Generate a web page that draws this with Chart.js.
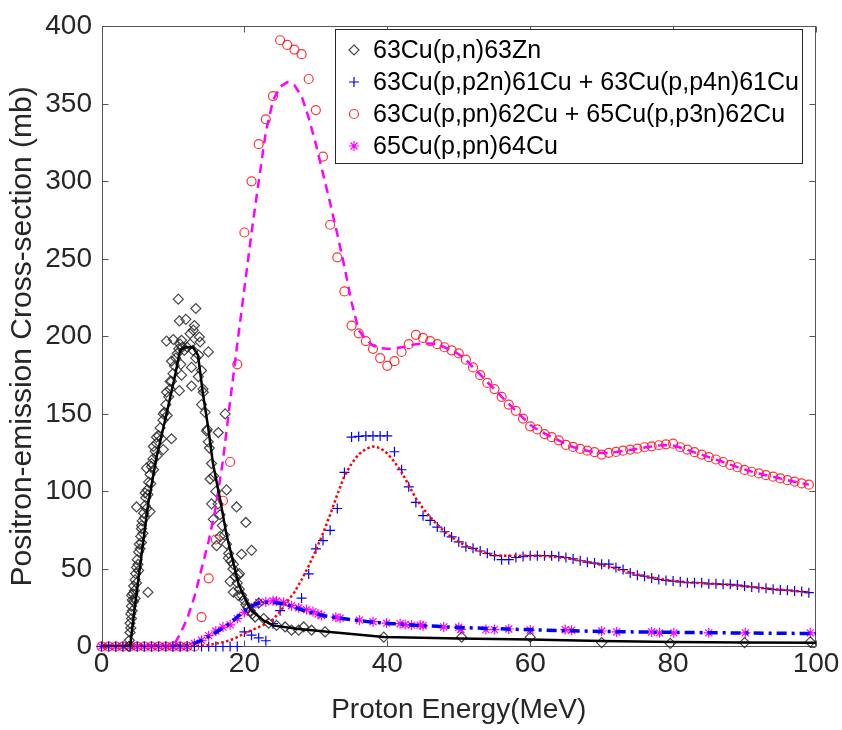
<!DOCTYPE html>
<html>
<head>
<meta charset="utf-8">
<script src="https://cdn.jsdelivr.net/npm/chart.js@4.4.1/dist/chart.umd.min.js"></script>
<style>
  body { margin: 0; background: #fff; }
  canvas { display: block; }
</style>
</head>
<body>
<canvas id="chart" width="842" height="730"></canvas>
<script>
// series names, in legend order
const seriesNames = [
    '63Cu(p,n)63Zn',
    '63Cu(p,p2n)61Cu + 63Cu(p,p4n)61Cu',
    '63Cu(p,pn)62Cu + 65Cu(p,p3n)62Cu',
    '65Cu(p,pn)64Cu'
];
const xTicks = [0, 20, 40, 60, 80, 100];
const yTicks = [0, 50, 100, 150, 200, 250, 300, 350, 400];

// 63Cu(p,n)63Zn points (diamonds)
const znE = [3.8, 3.9, 4.0, 4.0, 4.1, 4.1, 4.2, 4.2, 4.3, 4.3, 4.4, 4.5, 4.5, 4.6, 4.7, 4.7, 4.8, 4.9, 4.9, 5.0,
    5.1, 5.2, 5.2, 5.3, 5.4, 5.5, 5.6, 5.6, 5.7, 5.8, 5.9, 6.0, 6.1, 6.2, 6.3, 6.4, 6.5, 6.6, 6.8, 6.9,
    7.0, 7.2, 7.3, 7.5, 7.7, 7.8, 8.0, 8.2, 8.4, 8.6, 8.8, 9.0, 9.2, 9.4, 9.6, 9.8, 10.0, 10.2, 10.4, 10.6,
    10.8, 11.0, 11.3, 11.6, 12.0, 12.4, 12.8, 13.2,
    4.2, 6.5, 5.6, 4.9, 6.8, 6.1, 6.3, 7.0, 7.25, 8.65, 7.7, 9.8, 8.65, 9.1, 9.6, 10.9, 11.2, 9.8, 11.1, 12.6,
    12.6, 13.55, 9.1, 10.05, 11.2, 12.4, 13.7, 13.8, 14.95, 10.75, 13.2, 10.9, 11.8, 13.0, 12.85, 14.25, 14.0, 17.3, 14.7, 16.35,
    14.95, 15.2, 17.5, 18.9, 15.4, 15.65, 16.6, 16.1, 17.75, 18.45, 19.15, 18.0, 18.45, 19.15, 20.2, 19.6, 21.0, 19.3,
    13.6, 14.0, 14.2, 14.5, 14.8, 15.1, 15.4, 15.7, 16.0, 16.3, 16.6, 16.9, 17.2, 17.5, 17.8, 18.1, 18.4, 18.7, 19.0, 19.3,
    19.6, 19.9, 20.2, 20.5, 20.8, 21.1, 21.5, 22.0, 22.7, 23.4, 24.5, 25.7, 26.6, 27.6, 28.3, 29.4, 31.3, 39.5, 50.4, 60.0,
    70.0, 79.6, 90.0, 99.2];
const znXs = [0, 4, 9, 15, 12, 21, 26, 18, 30, 23, 34, 29, 39, 36, 43, 31, 47, 51, 41, 56,
    53, 61, 49, 66, 63, 71, 67, 76, 81, 73, 86, 83, 91, 96, 89, 101, 98, 106, 111, 105,
    116, 121, 114, 126, 131, 123, 136, 141, 134, 146, 151, 156, 149, 161, 166, 171, 176, 181, 186, 189,
    192, 195, 193, 191, 193, 195, 191, 186,
    33, 35, 78, 90, 87, 99, 115, 118, 129, 127, 135, 134, 150, 164, 171, 165, 175, 184, 182, 180,
    168, 174, 197, 198, 197.5, 201.7, 199.6, 196.4, 190, 224, 218, 210, 211, 207, 204, 164, 156, 150, 139, 138,
    132, 108, 101, 90, 92, 82, 71, 65, 57, 53, 46, 42, 35, 33, 80, 59.5, 62, 47,
    188, 178, 166, 151, 140, 128, 118, 110, 100, 92, 85, 78, 72, 66, 60, 55, 50, 45, 41, 37,
    33, 30, 27, 25, 23, 21, 19, 28, 18, 15, 13.6, 12.6, 10.5, 10.5, 12.6, 10.5, 9.4, 6, 6, 6,
    2.5, 2, 2.5, 3];

// 61Cu points (plus)
const cu61E = [0, 1, 2, 3, 4, 5, 6, 7, 8, 9, 10, 11, 12, 13, 14, 15, 16, 17, 18, 19,
    20, 21, 22, 23, 24, 25, 28, 29, 30, 31, 32, 33, 34, 35, 36, 37, 38, 39, 40, 41,
    42, 43, 44, 45, 46, 47, 48, 49, 50, 51, 52, 53, 54, 55, 56, 57, 58, 59, 60, 61,
    62, 63, 64, 65, 66, 67, 68, 69, 70, 71, 72, 73, 74, 75, 76, 77, 78, 79, 80, 81,
    82, 83, 84, 85, 86, 87, 88, 89, 90, 91, 92, 93, 94, 95, 96, 97, 98, 99];
const cu61Xs = [0, 0, 0, 0, 0, 0, 0, 0, 0, 0, 0, 0, 0, 0, 0, 0, 0, 0, 0, 0,
    9.4, 7.3, 5.6, 3.7, 14.7, 23.1, 31.2, 46.8, 63, 68.3, 74.9, 89, 112.3, 135.1, 135.5, 135.8, 135.8, 135.8, 135.8, 125.6,
    114, 103, 92.9, 84.4, 81.3, 77, 74, 70.7, 67.5, 64.3, 63.3, 61.6, 60.1, 58.6, 56, 56, 57.4, 58, 58.6, 58.6,
    58.6, 58.6, 58, 57.4, 56.5, 55.3, 54.4, 53.8, 53.1, 53.1, 51, 49.6, 47.4, 46, 45.3, 44.2, 43.2, 42.6, 42.2, 41.7,
    41.1, 41.1, 41.1, 40.4, 40.4, 40.1, 40.1, 39.6, 39, 38.4, 37.9, 37.5, 36.9, 36.4, 36.3, 35.8, 35.4, 34.7];

// 62Cu points (circles), one per MeV from 0 to 99
const cu62Xs = [0, 0, 0, 0, 0, 0, 0, 0, 0, 0, 0, 0, 0, 0, 19, 44, 69, 94, 119, 182,
    267, 300, 324, 340, 355, 391, 388, 385, 382, 366, 346, 316, 272, 251, 229, 207, 202, 197, 192, 186,
    181, 184, 190, 195, 201, 199, 197, 195, 193, 191, 189, 185, 180, 175, 170, 166, 161, 156, 152, 147,
    142, 140, 137, 135, 133, 130, 128.7, 127.4, 126.3, 125.3, 123.8, 124.9, 125.5, 126.3, 127, 127.6, 128.5, 129.1, 129.8, 130.4,
    130.8, 128.5, 127, 125.3, 123.8, 122.1, 120.6, 119, 117.1, 115.6, 113.9, 112.7, 111.6, 110.5, 109.5, 108.4, 107.3, 106.3, 105.2, 104.4];

// 64Cu points (asterisks)
const cu64E = [0, 1, 2, 3, 4, 5, 6, 7, 8, 9, 10, 11, 12, 13, 14, 15, 16, 17, 18, 19,
    20, 21, 22, 23, 24, 24.5, 25.5, 26.6, 27.6, 28.7, 29.6, 30.3, 30.8, 32.8, 33.4, 36.1, 38, 39.9, 41.8, 42.5,
    43.4, 44.6, 45, 47.9, 50, 50.3, 53.8, 55, 57, 60, 64.9, 65.8, 70, 72.1, 77, 78.1, 80.1, 85, 90.1, 99.2];
const cu64Xs = [0, 0, 0, 0, 0, 0, 0, 0, 0, 0, 0, 0, 0, 2, 4, 7, 10, 12.5, 14, 18,
    22, 25, 28.4, 28.8, 29.5, 29.3, 28.4, 26.3, 25, 23.8, 22.5, 21, 20, 18.9, 18.3, 17, 16, 15.1, 14.7, 14.2,
    13.8, 13.8, 13.4, 12.6, 12.4, 11, 10.9, 10.9, 11.3, 10.6, 10.9, 10.5, 10, 9.4, 9.4, 8.8, 8.8, 8.8, 8.8, 8.8];

// fitted curves
const znFitE = [0, 4, 4.7, 5.6, 6.5, 7.7, 9.1, 10.3, 11, 11.7, 12.8, 13.5, 14.2, 15, 15.6, 16.6, 17.5, 18.5, 19.2, 20.8,
    22.6, 24, 27.3, 32, 39.5, 50, 60, 70, 80, 90, 100];
const znFitXs = [0, 0, 27, 59, 91, 122, 150, 175, 191, 193, 193, 188, 163, 139, 118, 95, 72, 53, 40, 24,
    17, 13.6, 11.5, 9.4, 6.2, 5.2, 4.5, 3.6, 2.9, 2.6, 2.4];

const fitE = [0, 1, 2, 3, 4, 5, 6, 7, 8, 9, 10, 11, 12, 13, 14, 15, 16, 17, 18, 19,
    20, 21, 22, 23, 24, 25, 26, 27, 28, 29, 30, 31, 32, 33, 34, 35, 36, 37, 38, 39,
    40, 41, 42, 43, 44, 45, 46, 47, 48, 49, 50, 51, 52, 53, 54, 55, 56, 57, 58, 59,
    60, 61, 62, 63, 64, 65, 66, 67, 68, 69, 70, 71, 72, 73, 74, 75, 76, 77, 78, 79,
    80, 81, 82, 83, 84, 85, 86, 87, 88, 89, 90, 91, 92, 93, 94, 95, 96, 97, 98, 99];
const cu61Fit = [0, 0, 0, 0, 0, 0, 0, 0, 0, 0, 0, 0, 0, 0, 0.5, 1, 1.8, 2.8, 4, 6,
    8.5, 10.5, 12.5, 14.5, 17.5, 22.5, 29, 35, 43, 52, 62, 73, 85, 98, 110, 118, 124, 127.5, 129, 128,
    124.5, 119, 112.5, 104, 95.5, 89, 83.5, 78.5, 74, 70.5, 67.5, 65, 63, 61.5, 60, 59, 58.5, 58.5, 58.5, 58.5,
    58.5, 58.5, 58.3, 58, 57.5, 57, 56.3, 55.5, 54.5, 53.5, 52.5, 51.5, 50.3, 49, 47.7, 46.5, 45.5, 44.5, 43.7, 43,
    42.4, 41.9, 41.5, 41.2, 40.9, 40.6, 40.3, 40, 39.6, 39.2, 38.8, 38.3, 37.9, 37.4, 37, 36.6, 36.2, 35.8, 35.4, 35];
const cu62Fit = [0, 0, 0, 0, 0, 0, 0, 0, 0, 0, 0, 8, 18, 32, 50, 68, 90, 120, 158, 195,
    231, 267, 300, 332, 352, 361, 364, 362, 355, 341, 324, 305, 286, 266, 245, 222, 204, 198, 194, 192.5,
    192, 192.2, 193, 194, 195, 195.5, 195.5, 195, 193, 191, 188.5, 185, 180, 175.5, 170.5, 166, 161, 156.5, 152, 147.5,
    143, 140, 137.5, 135, 133, 130.5, 128.7, 127.3, 126.2, 125.3, 124.8, 124.9, 125.4, 126.1, 126.8, 127.5, 128.3, 129, 129.6, 129.9,
    129.6, 128.3, 126.8, 125.2, 123.7, 122.1, 120.5, 119, 117.3, 115.7, 114.2, 112.8, 111.6, 110.5, 109.5, 108.4, 107.3, 106.3, 105.3, 104.4];
const cu64FitE = [0, 1, 2, 3, 4, 5, 6, 7, 8, 9, 10, 11, 12, 13, 14, 15, 16, 17, 18, 19,
    20, 21, 22, 23, 24, 25, 26, 27, 28, 29, 30, 31, 32, 33, 34, 35, 36, 37, 38, 39,
    40, 41, 42, 43, 44, 45, 46, 47, 48, 49, 50, 55, 60, 65, 70, 75, 80, 85, 90, 95, 100];
const cu64Fit = [0, 0, 0, 0, 0, 0, 0, 0, 0, 0, 0, 0.3, 0.8, 2, 4, 6.5, 9, 12, 15, 19,
    23, 26, 28, 28.5, 28.5, 27.8, 26.8, 25.3, 23.7, 22.3, 21, 20, 19.2, 18.5, 17.9, 17.3, 16.8, 16.2, 15.7, 15.3,
    14.9, 14.6, 14.3, 14, 13.7, 13.4, 13.2, 13, 12.7, 12.5, 12.3, 11.5, 10.8, 10.2, 9.7, 9.4, 9.1, 8.9, 8.7, 8.5, 8.4];

const FONT = '"Liberation Sans", Arial, Helvetica, sans-serif';
const zip = (xs, ys) => xs.map((v, i) => ({x: v, y: ys[i]}));

// draws one marker of the given style (used for the legend)
function marker(ctx, style, x, y, r, color) {
    ctx.save();
    ctx.strokeStyle = color;
    ctx.lineWidth = 1.2;
    ctx.beginPath();
    if (style === 'rectRot') {
        ctx.moveTo(x, y - r); ctx.lineTo(x + r, y); ctx.lineTo(x, y + r); ctx.lineTo(x - r, y); ctx.closePath();
    } else if (style === 'cross') {
        ctx.moveTo(x - r, y); ctx.lineTo(x + r, y); ctx.moveTo(x, y - r); ctx.lineTo(x, y + r);
    } else if (style === 'circle') {
        ctx.arc(x, y, r, 0, Math.PI * 2);
    } else {
        const d = r * Math.SQRT1_2;
        ctx.moveTo(x - r, y); ctx.lineTo(x + r, y); ctx.moveTo(x, y - r); ctx.lineTo(x, y + r);
        ctx.moveTo(x - d, y - d); ctx.lineTo(x + d, y + d); ctx.moveTo(x - d, y + d); ctx.lineTo(x + d, y - d);
    }
    ctx.stroke();
    ctx.restore();
}

const markerStyles = ['rectRot', 'cross', 'circle', 'star'];
const markerColors = ['rgba(40,40,40,0.85)', '#0000ff', 'rgba(255,0,0,0.8)', '#ff00ff'];
const markerSizes = [5, 5, 4.5, 5];

// MATLAB-like box, inward ticks and the boxed legend
const matlabAxes = {
    id: 'matlabAxes',
    beforeDatasetsDraw(chart) {
        const {ctx, chartArea: a, scales: {x, y}} = chart;
        const L = Math.round(a.left) + 0.5, R = Math.round(a.right) - 0.5;
        const T = Math.round(a.top) + 0.5, B = Math.round(a.bottom) - 0.5;
        ctx.save();
        ctx.strokeStyle = '#555';
        ctx.lineWidth = 1;
        ctx.strokeRect(L, T, R - L, B - T);
        ctx.beginPath();
        xTicks.forEach(v => {
            const px = Math.round(x.getPixelForValue(v)) + 0.5;
            ctx.moveTo(px, B); ctx.lineTo(px, B - 6);
            ctx.moveTo(px, T); ctx.lineTo(px, T + 6);
        });
        yTicks.forEach(v => {
            const py = Math.round(y.getPixelForValue(v)) + 0.5;
            ctx.moveTo(L, py); ctx.lineTo(L + 6, py);
            ctx.moveTo(R, py); ctx.lineTo(R - 6, py);
        });
        ctx.stroke();
        ctx.restore();
    },
    afterDatasetsDraw(chart) {
        const ctx = chart.ctx;
        const box = {x: 335.5, y: 29.5, w: 467, h: 134};
        ctx.save();
        ctx.fillStyle = '#fff';
        ctx.fillRect(box.x, box.y, box.w, box.h);
        ctx.strokeStyle = '#262626';
        ctx.lineWidth = 1;
        ctx.strokeRect(box.x, box.y, box.w, box.h);
        ctx.font = '25px ' + FONT;
        ctx.fillStyle = '#000';
        ctx.textBaseline = 'middle';
        seriesNames.forEach((name, i) => {
            const cy = 50 + i * 32;
            marker(ctx, markerStyles[i], 354, cy, markerSizes[i], markerColors[i]);
            ctx.fillText(name, 373, cy + 1);
        });
        ctx.restore();
    }
};

const scatterSet = (i, data) => ({
    label: seriesNames[i],
    data: data,
    showLine: false,
    pointStyle: markerStyles[i],
    pointRadius: markerSizes[i],
    pointBorderWidth: 1.2,
    borderColor: markerColors[i],
    backgroundColor: 'rgba(0,0,0,0)',
    clip: false,
    order: 2
});
const lineSet = (data, color, width, dash) => ({
    label: '',
    data: data,
    showLine: true,
    pointRadius: 0,
    borderColor: color,
    borderWidth: width,
    borderDash: dash,
    tension: 0,
    order: 1
});

new Chart(document.getElementById('chart'), {
    type: 'scatter',
    data: {
        datasets: [
            scatterSet(0, zip(znE, znXs)),
            scatterSet(1, zip(cu61E, cu61Xs)),
            scatterSet(2, zip(fitE, cu62Xs)),
            scatterSet(3, zip(cu64E, cu64Xs)),
            lineSet(zip(znFitE, znFitXs), '#000000', 2.5, []),
            lineSet(zip(fitE, cu61Fit), '#ff0000', 2.5, [2.5, 2.5]),
            lineSet(zip(fitE, cu62Fit), '#ff00ff', 2.5, [9, 6]),
            lineSet(zip(cu64FitE, cu64Fit), '#0000ff', 3.5, [10, 5, 3, 5])
        ]
    },
    options: {
        responsive: false,
        animation: false,
        devicePixelRatio: 1,
        layout: { padding: { top: 16, right: 26, left: 0, bottom: 0 } },
        plugins: {
            legend: { display: false },
            tooltip: { enabled: false }
        },
        scales: {
            x: {
                type: 'linear',
                min: 0, max: 100,
                grid: { display: false, drawTicks: false },
                border: { display: false },
                ticks: {
                    stepSize: 20, padding: 1, color: '#262626',
                    font: { family: FONT, size: 28 }, maxRotation: 0
                },
                title: {
                    display: true, text: 'Proton Energy(MeV)', color: '#262626',
                    font: { family: FONT, size: 28 }, padding: { top: 0, bottom: 3 }
                },
                afterFit(s) { s.height = 83.5; }
            },
            y: {
                type: 'linear',
                min: 0, max: 400,
                grid: { display: false, drawTicks: false },
                border: { display: false },
                ticks: {
                    stepSize: 50, padding: 9.5, color: '#262626',
                    font: { family: FONT, size: 28 }
                },
                title: {
                    display: true, text: 'Positron-emission Cross-section (mb)', color: '#262626',
                    font: { family: FONT, size: 30 }, padding: { top: 5, bottom: 0 }
                },
                afterFit(s) { s.width = 101.5; }
            }
        }
    },
    plugins: [matlabAxes]
});
</script>
</body>
</html>
